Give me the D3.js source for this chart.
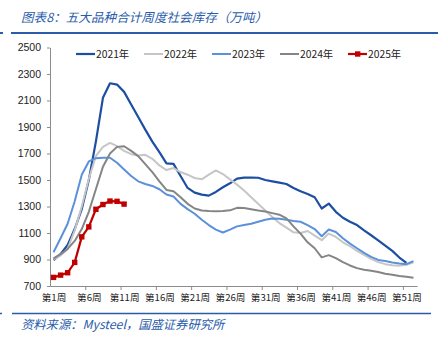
<!DOCTYPE html>
<html><head><meta charset="utf-8">
<script src="https://cdn.jsdelivr.net/npm/d3@7"></script>
<style>
html,body{margin:0;padding:0;background:#fff;}
svg{display:block;}
</style></head>
<body><svg id="c" width="438" height="345"></svg>
<script>
const weeks = d3.range(1, 53);
const tickWeeks = [1, 6, 11, 16, 21, 26, 31, 36, 41, 46, 51];
const yTicks = [700, 900, 1100, 1300, 1500, 1700, 1900, 2100, 2300, 2500];
const seriesNames = ["2021年", "2022年", "2023年", "2024年", "2025年"];
const s2021 = [895,940,1010,1130,1280,1500,1790,2120,2230,2220,2165,2070,1975,1880,1790,1710,1625,1622,1530,1440,1405,1390,1382,1410,1445,1475,1510,1518,1518,1517,1500,1490,1480,1470,1440,1415,1395,1370,1285,1322,1260,1215,1185,1160,1120,1083,1045,1005,965,915,875];
const s2022 = [900,930,980,1120,1300,1510,1680,1750,1780,1755,1720,1695,1685,1690,1660,1610,1575,1590,1560,1540,1515,1505,1540,1572,1545,1505,1465,1420,1370,1320,1270,1220,1175,1140,1105,1100,1115,1080,1046,1096,1070,1030,1000,965,935,905,880,865,857,852,860,878];
const s2023 = [955,1060,1170,1340,1540,1640,1665,1668,1668,1630,1580,1530,1490,1470,1455,1430,1390,1375,1320,1280,1245,1200,1160,1125,1104,1125,1150,1160,1170,1185,1200,1210,1208,1200,1190,1185,1160,1130,1076,1126,1108,1060,1020,985,950,920,897,888,878,870,865,888];
const s2024 = [908,940,980,1040,1130,1260,1430,1600,1700,1750,1755,1720,1680,1620,1560,1490,1425,1415,1370,1320,1285,1270,1266,1265,1266,1271,1290,1288,1280,1270,1262,1250,1238,1210,1150,1095,1030,985,916,933,910,880,855,835,822,815,805,792,785,776,770,762];
const s2025 = [765,782,800,878,1071,1146,1279,1315,1341,1339,1318];
const seriesData = [s2021, s2022, s2023, s2024, s2025];
const colors = ["#1c4fa2", "#c6c6c6", "#5b91da", "#858585", "#c00000"];
const widths = [2.2, 2, 2, 2, 2.2];

const svg = d3.select("#c");
const L = 50, R = 417, T = 47.5, B = 286;
const x = d3.scalePoint().domain(weeks).range([L, R]).padding(0.5);
const y = d3.scaleLinear().domain([700, 2500]).range([B, T]);
const blue = "#2a5caa";
const cjk = "'Noto Sans CJK SC','Noto Sans',sans-serif";

// title
svg.append("text").attr("x", 21).attr("y", 22).attr("fill", blue)
  .attr("font-family", cjk).attr("font-size", 12.6).attr("font-style", "italic")
  .text("图表8：五大品种合计周度社会库存（万吨）");
svg.append("line").attr("x1", 11).attr("x2", 438).attr("y1", 33).attr("y2", 33).attr("stroke", blue).attr("stroke-width", 2);
svg.append("line").attr("x1", 0).attr("x2", 3).attr("y1", 33).attr("y2", 33).attr("stroke", blue).attr("stroke-width", 2);
// footer
svg.append("line").attr("x1", 12).attr("x2", 431).attr("y1", 313.5).attr("y2", 313.5).attr("stroke", blue).attr("stroke-width", 1.6);
svg.append("line").attr("x1", 0).attr("x2", 2).attr("y1", 313.5).attr("y2", 313.5).attr("stroke", blue).attr("stroke-width", 1.6);
svg.append("text").attr("x", 21).attr("y", 329).attr("fill", blue)
  .attr("font-family", cjk).attr("font-size", 12.3).attr("font-style", "italic")
  .text("资料来源：Mysteel，国盛证券研究所");

// y axis
const yAxis = d3.axisLeft(y).tickValues(yTicks).tickFormat(d3.format("d")).tickSize(3).tickSizeOuter(0).tickPadding(6);
const gy = svg.append("g").attr("transform", `translate(${L},0)`).call(yAxis);
gy.select(".domain").attr("stroke", "#8c8c8c");
gy.selectAll(".tick line").attr("stroke", "#8c8c8c");
gy.selectAll("text").attr("font-family", "'Liberation Sans',Arial,sans-serif").attr("font-size", 10.5).attr("fill", "#222");

// x axis: labels centered on categories
const xAxis = d3.axisBottom(x).tickValues(tickWeeks).tickFormat(d => "第" + d + "周").tickSize(0).tickPadding(8);
const gx = svg.append("g").attr("transform", `translate(0,${B})`).call(xAxis);
gx.select(".domain").remove();
gx.selectAll("text").attr("font-family", cjk).attr("font-size", 9.6).attr("fill", "#222");
// x axis line and ticks at category boundaries
const xb = d3.scaleLinear().domain([0, 52]).range([L, R]);
const gxb = svg.append("g").attr("transform", `translate(0,${B})`)
  .call(d3.axisBottom(xb).tickValues([5,10,15,20,25,30,35,40,45,50]).tickSize(4).tickSizeOuter(0).tickFormat(""));
gxb.select(".domain").attr("stroke", "#8c8c8c");
gxb.selectAll(".tick line").attr("stroke", "#8c8c8c");

// lines
const line = d3.line().x((d, i) => x(weeks[i])).y(d => y(d));
seriesData.forEach((s, k) => {
  svg.append("path").datum(s).attr("fill", "none").attr("stroke", colors[k])
    .attr("stroke-width", widths[k]).attr("stroke-linejoin", "round").attr("d", line);
});
svg.append("g").selectAll("rect").data(s2025).join("rect")
  .attr("x", (d, i) => x(weeks[i]) - 2.7).attr("y", d => y(d) - 2.7)
  .attr("width", 5.4).attr("height", 5.4).attr("fill", "#c00000");

// legend
const legX = [76, 144, 212, 280, 348];
const lg = svg.append("g");
seriesNames.forEach((n, k) => {
  const gx0 = legX[k];
  lg.append("line").attr("x1", gx0).attr("x2", gx0 + 19).attr("y1", 54).attr("y2", 54)
    .attr("stroke", colors[k]).attr("stroke-width", widths[k]);
  if (k === 4) lg.append("rect").attr("x", gx0 + 7).attr("y", 51.3).attr("width", 5.4).attr("height", 5.4).attr("fill", colors[k]);
  lg.append("text").attr("x", gx0 + 20).attr("y", 57.8).attr("font-family", cjk)
    .attr("font-size", 10.3).attr("fill", "#222").text(n);
});
</script></body></html>
